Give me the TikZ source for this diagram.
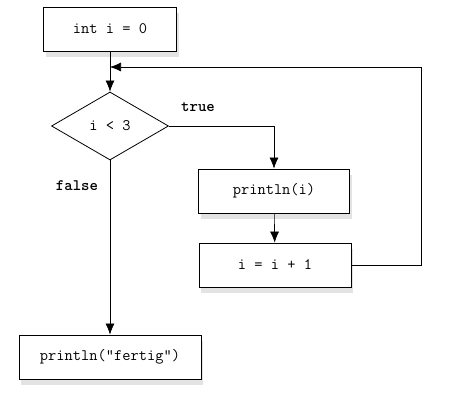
\documentclass[tikz,border=0pt]{standalone}
\usepackage{fontspec}
\usepackage{tikz}
\usetikzlibrary{shapes.geometric,arrows.meta,shadows}

\begin{document}
\begin{tikzpicture}[x=1pt, y=-1pt]
		\tikzstyle{box}=[draw, thick, rectangle, fill=white, minimum height=44pt, inner sep=0pt,
		                 font=\ttfamily\fontsize{16}{18}\selectfont,
		                 drop shadow={shadow xshift=2pt, shadow yshift=-6pt, fill=black!22}]
		\tikzstyle{test}=[draw, thick, diamond, fill=white, aspect=1.72, minimum width=117pt, minimum height=68pt,
		                  inner sep=0pt, font=\ttfamily\fontsize{16}{18}\selectfont]
		\tikzstyle{label}=[font=\ttfamily\bfseries\fontsize{16}{18}\selectfont]
		\tikzstyle{arrow}=[-{Latex[length=11pt, width=9pt]}, semithick]
		\useasboundingbox (0, 0) rectangle (456, 403);
		\node[box, minimum width=133pt] (init) at (110, 29) {int i = 0};
		\node[test] (cond) at (110, 126) {i < 3};
		\node[box, minimum width=151pt] (print) at (274, 191) {println(i)};
		\node[box, minimum width=152pt] (incr) at (275, 265) {i = i + 1};
		\node[box, minimum width=182pt] (done) at (110, 357) {println("fertig")};
		\node[label] (yes) at (198, 107) {true};
		\node[label] (no) at (77, 186) {false};
		\coordinate (turn) at (421, 67);
		\coordinate (back) at (110, 67);
		\draw[arrow] (init) -- (cond);
		\draw[arrow] (cond.east) -| (print.north);
		\draw[arrow] (print) -- (incr);
		\draw[arrow] (incr.east) -| (turn) -- (back);
		\draw[arrow] (cond.south) -- (done.north);
	\end{tikzpicture}
\end{document}
